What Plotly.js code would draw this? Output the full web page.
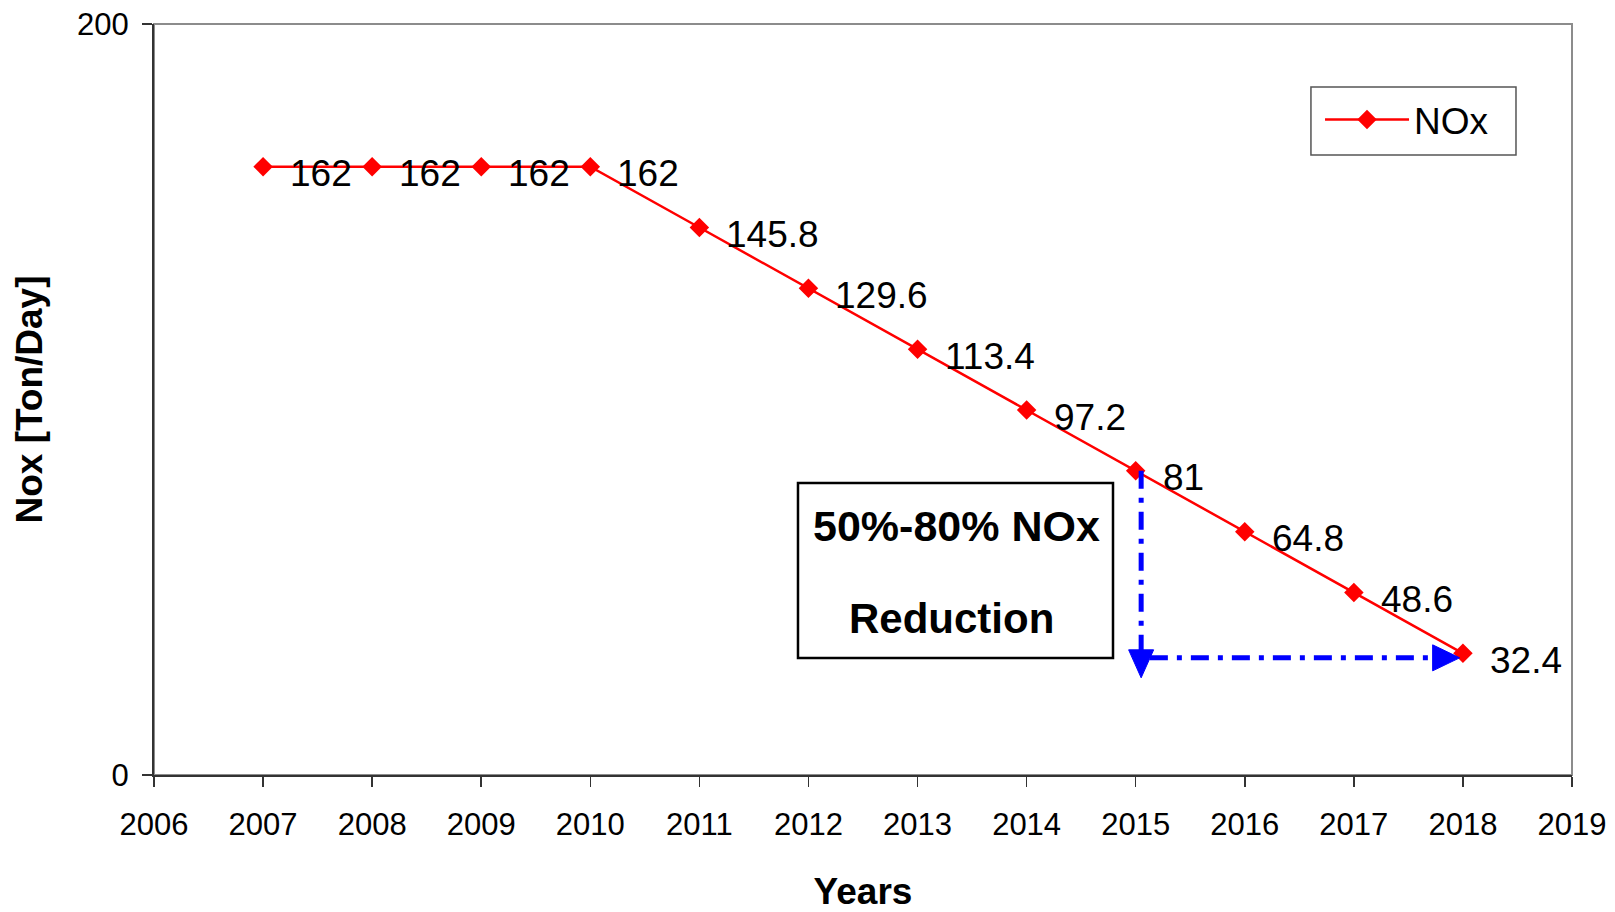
<!DOCTYPE html>
<html>
<head>
<meta charset="utf-8">
<script src="https://cdn.plot.ly/plotly-3.0.1.min.js"></script>
<style>html,body{margin:0;padding:0;background:#fff;}#chart{width:1615px;height:912px;}</style>
</head>
<body>
<div id="chart"></div>
<script>
// ---- data ----
const years = [2007, 2008, 2009, 2010, 2011, 2012, 2013, 2014, 2015, 2016, 2017, 2018];
const noxValues = [162, 162, 162, 162, 145.8, 129.6, 113.4, 97.2, 81, 64.8, 48.6, 32.4];
const xTickVals = [2006, 2007, 2008, 2009, 2010, 2011, 2012, 2013, 2014, 2015, 2016, 2017, 2018, 2019];
const yTickVals = [0, 200];
const seriesName = 'NOx';
const boxLines = ['50%-80% NOx', 'Reduction'];

const FONT = 'Liberation Sans, Arial, sans-serif';
const blue = '#0000FF';

// label annotations built from data
const labelAnn = years.map((yr, i) => ({
  x: yr, y: noxValues[i], xref: 'x', yref: 'y',
  text: String(noxValues[i]), showarrow: false,
  xanchor: 'left', yanchor: 'middle', xshift: 25, yshift: -7,
  font: {family: FONT, size: 37, color: '#000'}
}));

// arrow geometry (annotation decoration)
const vx = 2015.05, hy = 31.2, tipX = 2017.97;
const dashPat = '18px,9px,5px,9px';

const shapes = [
  {type: 'rect', xref: 'paper', yref: 'paper', x0: 0, x1: 1, y0: 0, y1: 1,
   line: {color: '#8c8c8c', width: 2}, layer: 'below'},
  // legend frame
  {type: 'rect', xref: 'paper', yref: 'paper', x0: 0.8159, x1: 0.9605, y0: 0.8256, y1: 0.9161,
   line: {color: '#555', width: 1.5}, fillcolor: '#fff', layer: 'below'},
  {type: 'line', xref: 'x', yref: 'y', x0: vx, x1: vx, y0: 81, y1: hy + 2,
   line: {color: blue, width: 5, dash: dashPat}},
  {type: 'line', xref: 'x', yref: 'y', x0: vx + 0.08, x1: 2017.72, y0: hy, y1: hy,
   line: {color: blue, width: 5, dash: dashPat}},
  {type: 'path', xref: 'x', yref: 'y', xsizemode: 'pixel', ysizemode: 'pixel',
   xanchor: vx, yanchor: hy, path: 'M-12.5,8 L12.5,8 L0,-20 Z',
   fillcolor: blue, line: {color: blue, width: 1}},
  {type: 'path', xref: 'x', yref: 'y', xsizemode: 'pixel', ysizemode: 'pixel',
   xanchor: tipX, yanchor: hy, path: 'M-27,13 L-27,-13 L0,0 Z',
   fillcolor: blue, line: {color: blue, width: 1}},
  {type: 'rect', xref: 'x', yref: 'y', x0: 2011.904, x1: 2014.792, y0: 31.16, y1: 77.76,
   line: {color: '#000', width: 2.5}, fillcolor: 'rgba(0,0,0,0)'}
];

const boxAnn = [
  {x: 2013.357, y: 66.2, xref: 'x', yref: 'y', text: '<b>' + boxLines[0] + '</b>', showarrow: false,
   xanchor: 'center', yanchor: 'middle', font: {family: FONT, size: 43, color: '#000'}},
  {x: 2013.31, y: 41.8, xref: 'x', yref: 'y', text: '<b>' + boxLines[1] + '</b>', showarrow: false,
   xanchor: 'center', yanchor: 'middle', font: {family: FONT, size: 42, color: '#000'}}
];

const trace = {
  x: years, y: noxValues, type: 'scatter', mode: 'lines+markers', name: seriesName,
  line: {color: '#FF0000', width: 2.5},
  marker: {symbol: 'diamond', size: 15, color: '#FF0000'}
};

const layout = {
  width: 1615, height: 912,
  margin: {l: 154, r: 43, t: 24, b: 137},
  paper_bgcolor: '#fff', plot_bgcolor: '#fff',
  font: {family: FONT, color: '#000'},
  showlegend: true,
  legend: {
    x: 0.8223, y: 0.8722, xanchor: 'left', yanchor: 'middle',
    borderwidth: 0, bgcolor: 'rgba(0,0,0,0)',
    font: {family: FONT, size: 37, color: '#000'},
    itemwidth: 84
  },
  xaxis: {
    range: [2006, 2019], tickvals: xTickVals, ticktext: xTickVals.map(String),
    showgrid: false, zeroline: false, showline: true, linecolor: '#333', linewidth: 2,
    ticks: 'outside', ticklen: 10, tickwidth: 1.5, tickcolor: '#333',
    tickfont: {family: FONT, size: 31, color: '#000'}, ticklabelstandoff: 11,
    title: {text: '<b>Years</b>', font: {family: FONT, size: 37, color: '#000'}, standoff: 38}
  },
  yaxis: {
    range: [0, 200], tickvals: yTickVals, ticktext: yTickVals.map(String),
    showgrid: false, zeroline: false, showline: true, linecolor: '#333', linewidth: 2,
    ticks: 'outside', ticklen: 10, tickwidth: 1.5, tickcolor: '#333',
    tickfont: {family: FONT, size: 31, color: '#000'}, ticklabelstandoff: 7,
    title: {text: '<b>Nox [Ton/Day]</b>', font: {family: FONT, size: 37, color: '#000'}, standoff: 23}
  },
  shapes: shapes,
  annotations: labelAnn.concat(boxAnn)
};

Plotly.newPlot('chart', [trace], layout, {displayModeBar: false, staticPlot: true});
</script>
</body>
</html>
